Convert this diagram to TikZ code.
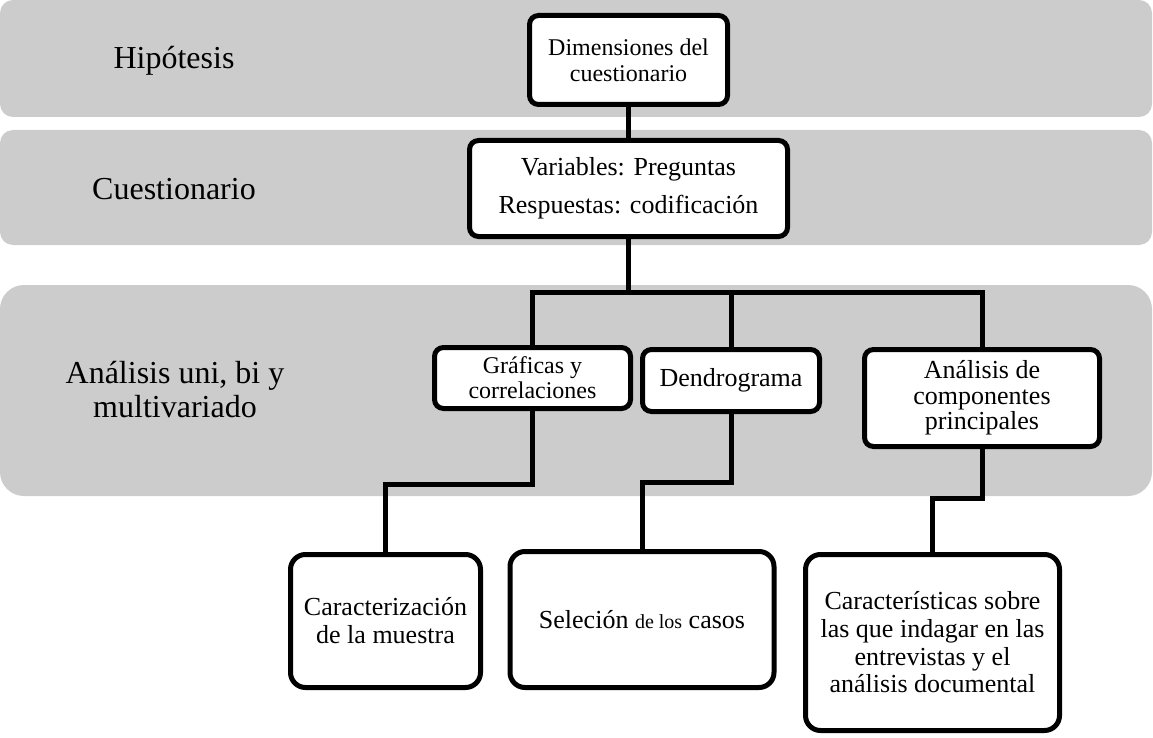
\documentclass[tikz,border=0pt]{standalone}
\usepackage{fontspec}
\setmainfont{Liberation Serif}
\definecolor{bandgray}{RGB}{204,204,204}
\begin{document}
\begin{tikzpicture}[x=1pt,y=-1pt,
  lab/.style={align=center, inner sep=0pt, font=\fontsize{32}{34}\selectfont},
  box/.style={draw, line width=5pt, rounded corners=9pt, fill=white,
              align=center, inner sep=0pt},
  bigbox/.style={box, rounded corners=15pt},
  link/.style={line width=5pt}]
\useasboundingbox (0,0) rectangle (1153,738);

% background bands
\fill[bandgray, rounded corners=13pt] (0,0) rectangle (1152,117);
\fill[bandgray, rounded corners=13pt] (0,130) rectangle (1152,245);
\fill[bandgray, rounded corners=24pt] (0,285) rectangle (1152,496);

% band labels
\node[lab] (hip) at (174,61) {Hipótesis};
\node[lab] (cue) at (174,189) {Cuestionario};
\node[lab] (ana) at (175,390) {Análisis uni, bi y\\multivariado};

% boxes
\node[box, minimum width=198pt, minimum height=89pt,
      font=\fontsize{24}{26}\selectfont] (dim) at (628.5,60)
      {Dimensiones del\\cuestionario};
\node[box, minimum width=318pt, minimum height=96pt,
      font=\fontsize{26}{38}\selectfont] (var) at (628.5,188.5)
      {Variables: Preguntas\\Respuestas: codificación};
\node[box, minimum width=196pt, minimum height=61pt,
      font=\fontsize{24}{25}\selectfont] (graf) at (532.5,378)
      {Gráficas y\\correlaciones};
\node[box, minimum width=177pt, minimum height=62pt,
      font=\fontsize{26}{28}\selectfont] (dend) at (731,380.5)
      {Dendrograma};
\node[box, minimum width=235pt, minimum height=97pt,
      font=\fontsize{26}{25.5}\selectfont] (anal) at (982,398)
      {Análisis de\\componentes\\principales};
\node[bigbox, minimum width=190pt, minimum height=133pt,
      font=\fontsize{26}{28}\selectfont] (carac) at (385.5,621)
      {Caracterización\\de la muestra};
\node[bigbox, minimum width=264pt, minimum height=136pt,
      font=\fontsize{26}{28}\selectfont] (sel) at (642,619.5)
      {Seleción {\fontsize{20}{24}\selectfont de los} casos};
\node[bigbox, minimum width=254pt, minimum height=176pt,
      font=\fontsize{26}{27.7}\selectfont] (cars) at (932.5,642.5)
      {Características sobre\\las que indagar en las\\entrevistas y el\\análisis documental};

% connectors
\coordinate (hub) at (628.5,292);
\coordinate (k1) at (0,484);
\coordinate (k2) at (0,482);
\coordinate (k3) at (0,498);
\draw[link] (dim.south) -- (var.north);
\draw[link] (var.south) -- (hub);
\draw[link] (graf.north) |- (hub) -| (anal.north);
\draw[link] (dend.north) -- (dend.north |- hub);
\draw[link] (graf.south) -- (graf.south |- k1) -| (carac.north);
\draw[link] (dend.south) -- (dend.south |- k2) -| (sel.north);
\draw[link] (anal.south) -- (anal.south |- k3) -| (cars.north);
\end{tikzpicture}
\end{document}
